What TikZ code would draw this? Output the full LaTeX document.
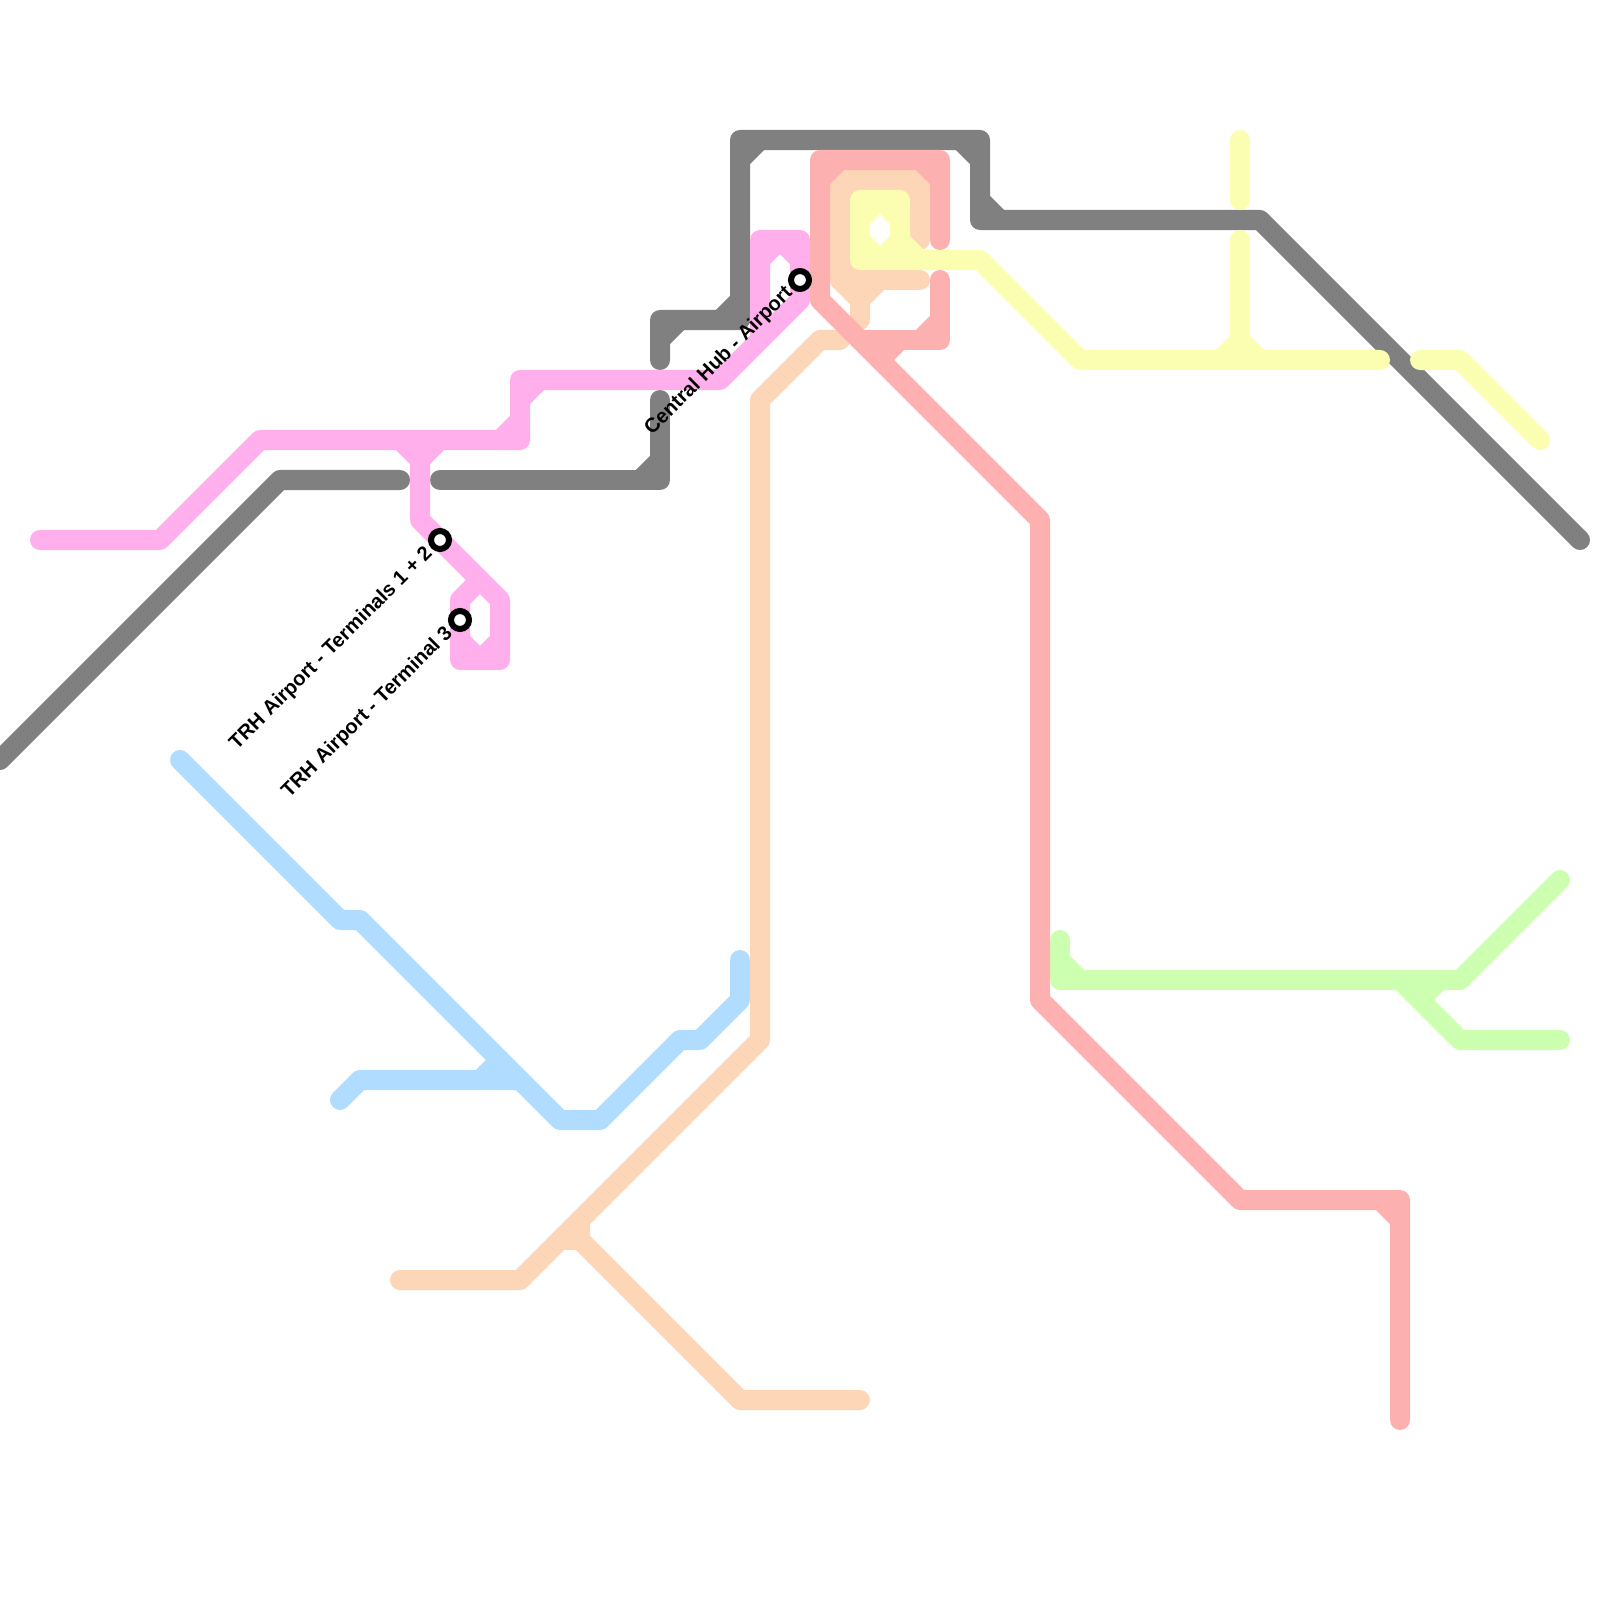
\documentclass[tikz,border=0pt]{standalone}
\usepackage{fontspec}
\setmainfont{Liberation Sans}
\definecolor{gris}{HTML}{808080}
\definecolor{rose}{HTML}{FFB0EC}
\definecolor{bleu}{HTML}{B0DCFF}
\definecolor{vert}{HTML}{CDFFB0}
\definecolor{peche}{HTML}{FDD5B7}
\definecolor{jaune}{HTML}{FBFDB0}
\definecolor{saumon}{HTML}{FDB0B0}
\tikzset{
  ligne/.style={line width=0.2cm,line cap=round,line join=round},
  gare/.style={circle,draw=black,fill=white,line width=0.06cm,minimum size=0.18cm,inner sep=0pt},
  nomgare/.style={rotate=45,anchor=east,inner sep=0pt,font=\bfseries\fontsize{5.74}{7}\selectfont}
}
\begin{document}
\begin{tikzpicture}[x=0.01cm,y=-0.01cm] % 1 unite = 1 pixel de la reference

\useasboundingbox (0,0) rectangle (1600,1600);

% --------- Ligne grise ----------
\draw[ligne,gris] (0,760) -- (280,480) -- (400,480);
\draw[ligne,gris] (440,480) -- (660,480) -- (660,400);
\draw[ligne,gris] (660,360) -- (660,320) -- (740,320) -- (740,140) -- (980,140) -- (980,220) -- (1260,220) -- (1580,540);
\foreach \xa/\ya/\xb/\yb in {640/480/660/460,660/340/680/320,720/320/740/300,740/160/760/140,960/140/980/160,980/200/1000/220}{
  \draw[ligne,gris] (\xa,\ya) -- (\xb,\yb);
}

% --------- Ligne bleue ----------
\draw[ligne,bleu] (180,760) -- (340,920) -- (360,920) -- (560,1120) -- (600,1120) -- (680,1040) -- (700,1040) -- (740,1000) -- (740,960);
\draw[ligne,bleu] (340,1100) -- (360,1080) -- (520,1080);
\draw[ligne,bleu] (480,1080) -- (500,1060);

% --------- Ligne verte ----------
\draw[ligne,vert] (1060,940) -- (1060,980) -- (1460,980) -- (1560,880);
\draw[ligne,vert] (1400,980) -- (1460,1040) -- (1560,1040);
\draw[ligne,vert] (1060,960) -- (1080,980);
\draw[ligne,vert] (1420,1000) -- (1440,980);

% --------- Ligne rose ----------
\draw[ligne,rose] (40,540) -- (160,540) -- (260,440) -- (520,440) -- (520,380) -- (720,380) -- (800,300) -- (800,240) -- (760,240) -- (760,340);
\draw[ligne,rose] (420,440) -- (420,520) -- (500,600) -- (500,660) -- (460,660) -- (460,600) -- (480,580);
\foreach \xa/\ya/\xb/\yb in {500/440/520/420,520/400/540/380,400/440/420/460,420/460/440/440,760/260/780/240,780/240/800/260,460/640/480/660,480/660/500/640}{
  \draw[ligne,rose] (\xa,\ya) -- (\xb,\yb);
}

% --------- Ligne peche ----------
\draw[ligne,peche] (840,340) -- (820,340) -- (760,400) -- (760,1040) -- (520,1280) -- (400,1280);
\draw[ligne,peche] (580,1220) -- (580,1240) -- (740,1400) -- (860,1400);
\draw[ligne,peche] (560,1240) -- (580,1240);
\draw[ligne,peche] (920,280) -- (840,280) -- (840,180) -- (920,180) -- (920,240);
\draw[ligne,peche] (840,280) -- (860,300) -- (860,320);
\foreach \xa/\ya/\xb/\yb in {860/300/880/280,840/200/860/180,900/180/920/200,840/260/860/280}{
  \draw[ligne,peche] (\xa,\ya) -- (\xb,\yb);
}

% --------- Ligne jaune ----------
\draw[ligne,jaune] (1240,140) -- (1240,200);
\draw[ligne,jaune] (1240,240) -- (1240,360);
\draw[ligne,jaune] (860,260) -- (860,200) -- (900,200) -- (900,240) -- (920,260);
\draw[ligne,jaune] (860,260) -- (980,260) -- (1080,360) -- (1380,360);
\draw[ligne,jaune] (1420,360) -- (1460,360) -- (1540,440);
\foreach \xa/\ya/\xb/\yb in {860/220/880/200,880/200/900/220,860/240/880/260,880/260/900/240,1220/360/1240/340,1240/340/1260/360}{
  \draw[ligne,jaune] (\xa,\ya) -- (\xb,\yb);
}

% --------- Ligne saumon ----------
\draw[ligne,saumon] (1400,1420) -- (1400,1200) -- (1240,1200) -- (1040,1000) -- (1040,520) -- (820,300) -- (820,160) -- (940,160) -- (940,240);
\draw[ligne,saumon] (940,280) -- (940,340) -- (860,340);
\foreach \xa/\ya/\xb/\yb in {820/180/840/160,920/160/940/180,920/340/940/320,880/360/900/340,1380/1200/1400/1220}{
  \draw[ligne,saumon] (\xa,\ya) -- (\xb,\yb);
}

% --------- Gares ----------
\node[gare] (terminaux) at (440,540) {};
\node[gare] (terminaltrois) at (460,620) {};
\node[gare] (centralhub) at (800,280) {};

\node[nomgare] (nomterminaux) at (430,550) {TRH Airport - Terminals 1 + 2};
\node[nomgare] (nomterminaltrois) at (450,630) {TRH Airport - Terminal 3};
\node[nomgare] (nomcentralhub) at (790,290) {Central Hub - Airport};

\end{tikzpicture}
\end{document}
